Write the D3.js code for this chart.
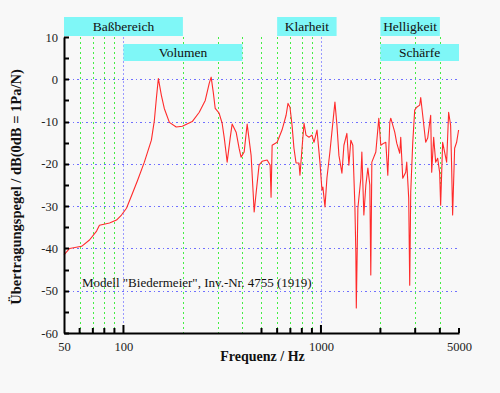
<!DOCTYPE html>
<html>
<head>
<meta charset="utf-8">
<script src="https://cdn.jsdelivr.net/npm/d3@7"></script>
<style>
  html, body { margin: 0; padding: 0; background: #f8f8f8; }
  svg { display: block; }
  svg text { font-family: "Liberation Serif", "Times New Roman", serif; }
</style>
</head>
<body>
<div id="chart"></div>
<script>
// Frequency response (Hz / dB)
let freqs = [50, 53.4, 61.4, 67.3, 73.1, 75.6, 85, 92.2, 97.7, 103.6, 111, 117.7, 127.6, 138.5, 143.4, 146.8, 150.2,
  155.6, 161, 170.8, 185, 198.6, 223, 242, 259.5, 272, 278, 285, 291.5, 305, 316, 324, 331, 335, 347, 355, 372, 385,
  394, 408.5, 423, 443, 453.5, 459, 470, 486, 503.5, 534, 553, 559, 566, 600, 635, 666, 681, 697, 714, 730, 748, 774,
  783, 802, 821, 840, 870, 900, 922, 955, 988, 1012, 1023, 1048, 1072, 1110, 1136, 1177, 1205, 1233, 1277, 1307, 1353,
  1385, 1417, 1450, 1485, 1502, 1510, 1538, 1592, 1611, 1649, 1688, 1728, 1768, 1788, 1810, 1896, 1963, 2009, 2081,
  2130, 2180, 2231, 2257, 2364, 2420, 2506, 2535, 2595, 2687, 2719, 2782, 2815, 2848, 2915, 2983, 3053, 3162, 3200,
  3275, 3391, 3471, 3594, 3637, 3721, 3809, 3899, 3990, 4037, 4132, 4329, 4431, 4535, 4587, 4642, 4752, 4863, 4977];
let levels = [-41.5, -40, -39.5, -38, -35.9, -34.5, -34, -33.3, -32.1, -30.5, -27, -24, -19.6, -14.4, -9.7, -4.5, 0.2,
  -3.8, -6.9, -10.2, -11.3, -11.1, -10, -7.8, -5, -0.9, 0.5, -3.1, -6.9, -8, -10.4, -13.9, -17.5, -19.6, -13.9, -10.6,
  -12.5, -16.3, -18.4, -17.2, -10.6, -18, -26.7, -31.4, -26.7, -20.3, -19.4, -19.1, -20.3, -27.9, -15.6, -14.9, -12,
  -8.5, -5.7, -6.6, -10.9, -16.3, -19.8, -19.8, -22.7, -16.3, -10.4, -13.2, -13.7, -13.2, -14.9, -12, -19.6, -26.2,
  -25.5, -30.2, -23.4, -17.2, -12.5, -5.4, -10.9, -18, -22.2, -15.6, -12.8, -20.3, -14.4, -15.6, -29.8, -40.9, -54.1,
  -30.5, -23.4, -17.2, -32.1, -25, -21, -25, -46.3, -19.6, -17.2, -9.2, -15.6, -15.1, -14.9, -22.7, -10.2, -9.2,
  -12.5, -15.1, -17.5, -13.7, -23.4, -22, -19.6, -28.1, -48.7, -26.7, -15.1, -7.3, -6.6, -6.1, -4.3, -8.5, -14.9,
  -13.9, -8.5, -22, -13.7, -19.6, -18.7, -22, -29.8, -14.9, -19.6, -7.8, -10.9, -20.3, -32.1, -16.3, -14.9, -12];

// Frequency bands shown as cyan labels
let bandNames = ['Baßbereich', 'Volumen', 'Klarheit', 'Helligkeit', 'Schärfe'];
let bandFrom = [50, 100, 600, 2000, 2000];
let bandTo = [200, 400, 1200, 4000, 5000];
let bandRow = [0, 1, 0, 0, 1];

// Axis ticks
let yTicks = [10, 0, -10, -20, -30, -40, -50, -60];
let yMinorTicks = [5, -5, -15, -25, -35, -45, -55];
let xGridGreen = [60, 70, 80, 90, 200, 300, 400, 500, 600, 700, 800, 900, 2000, 3000, 4000];
let xGridBlue = [100, 1000];
let xTickMarks = [60, 70, 80, 90, 500, 600, 700, 800, 900, 2000, 3000, 4000, 5000];
let xTickLabels = [50, 100, 1000, 5000];
let yGrid = [0, -10, -20, -30, -40, -50];

let svgWidth = 500;
let svgHeight = 393;
let margin = { top: 37, right: 41, bottom: 60, left: 64 };
let width = svgWidth - margin.left - margin.right;
let height = svgHeight - margin.top - margin.bottom;

let svg = d3.select('#chart').append('svg')
  .attr('width', svgWidth)
  .attr('height', svgHeight);

svg.append('rect')
  .attr('width', svgWidth)
  .attr('height', svgHeight)
  .attr('fill', '#f8f8f8');

let chartGroup = svg.append('g')
  .attr('transform', `translate(${margin.left}, ${margin.top})`);

let xScale = d3.scaleLog().domain([50, 5000]).range([0, width]);
let yScale = d3.scaleLinear().domain([-60, 10]).range([height, 0]);
let px = v => Math.round(v) + 0.5;

// grid lines
chartGroup.selectAll('.vgreen')
  .data(xGridGreen)
  .enter()
  .append('line')
  .attr('x1', d => px(xScale(d)))
  .attr('x2', d => px(xScale(d)))
  .attr('y1', 0)
  .attr('y2', height)
  .attr('stroke', '#44ee44')
  .attr('stroke-width', 1)
  .attr('stroke-dasharray', '2,3');

chartGroup.selectAll('.vblue')
  .data(xGridBlue)
  .enter()
  .append('line')
  .attr('x1', d => px(xScale(d)))
  .attr('x2', d => px(xScale(d)))
  .attr('y1', 0)
  .attr('y2', height)
  .attr('stroke', '#9a9aff')
  .attr('stroke-dasharray', '2,2');

chartGroup.selectAll('.hblue')
  .data(yGrid)
  .enter()
  .append('line')
  .attr('x1', 0)
  .attr('x2', width - 1)
  .attr('y1', d => px(yScale(d)))
  .attr('y2', d => px(yScale(d)))
  .attr('stroke', '#7070ff')
  .attr('stroke-dasharray', '1,3,2,3');

// band labels
let bandGroup = chartGroup.selectAll('.band')
  .data(bandNames)
  .enter()
  .append('g');

bandGroup.append('rect')
  .attr('x', (d, i) => xScale(bandFrom[i]))
  .attr('y', (d, i) => bandRow[i] === 0 ? -20 : 7)
  .attr('width', (d, i) => xScale(bandTo[i]) - xScale(bandFrom[i]))
  .attr('height', (d, i) => bandRow[i] === 0 ? 19 : 17)
  .attr('fill', '#7ff7f7');

bandGroup.append('text')
  .attr('x', (d, i) => (xScale(bandFrom[i]) + xScale(bandTo[i])) / 2)
  .attr('y', (d, i) => bandRow[i] === 0 ? -6 : 20)
  .attr('text-anchor', 'middle')
  .attr('font-size', '13.5px')
  .attr('fill', '#111')
  .text(d => d);

// response curve
let line = d3.line()
  .x(d => xScale(d[0]))
  .y(d => yScale(d[1]));

chartGroup.append('path')
  .datum(freqs.map((f, i) => [f, levels[i]]))
  .attr('d', line)
  .attr('fill', 'none')
  .attr('stroke', '#ff2a2a')
  .attr('stroke-width', 1.1)
  .attr('stroke-linejoin', 'round');

// axes
let leftAxis = d3.axisLeft(yScale)
  .tickValues(yTicks)
  .tickSize(0)
  .tickPadding(6);

let yAxis = chartGroup.append('g').call(leftAxis);
yAxis.attr('font-family', null);
yAxis.select('.domain').attr('stroke', '#000').attr('stroke-width', 2);
yAxis.selectAll('text')
  .attr('font-size', '12.5px')
  .attr('fill', '#222')
  .text(d => d < 0 ? '-' + Math.abs(d) : d);

chartGroup.selectAll('.ytick')
  .data(yTicks.concat(yMinorTicks))
  .enter()
  .append('line')
  .attr('x1', 0)
  .attr('x2', 5)
  .attr('y1', d => px(yScale(d)))
  .attr('y2', d => px(yScale(d)))
  .attr('stroke', '#000')
  .attr('stroke-width', 2);

let bottomAxis = d3.axisBottom(xScale)
  .tickValues(xTickLabels)
  .tickSize(0)
  .tickPadding(9)
  .tickFormat(d3.format('d'));

let xAxis = chartGroup.append('g')
  .attr('transform', `translate(0, ${height})`)
  .call(bottomAxis);
xAxis.attr('font-family', null);
xAxis.select('.domain').attr('stroke', '#000').attr('stroke-width', 2);
xAxis.selectAll('text')
  .attr('font-size', '12.5px')
  .attr('fill', '#222');

chartGroup.selectAll('.xtick')
  .data(xTickMarks.concat(xGridBlue))
  .enter()
  .append('line')
  .attr('x1', d => xScale(d))
  .attr('x2', d => xScale(d))
  .attr('y1', height)
  .attr('y2', d => xGridBlue.includes(d) ? height - 8 : height - 5)
  .attr('stroke', '#000')
  .attr('stroke-width', 2);

// axis titles
chartGroup.append('text')
  .attr('x', width / 2 + 1)
  .attr('y', height + 28)
  .attr('text-anchor', 'middle')
  .attr('font-size', '14px')
  .attr('font-weight', 'bold')
  .attr('fill', '#111')
  .text('Frequenz / Hz');

chartGroup.append('text')
  .attr('transform', `translate(${-43}, ${height / 2 + 2}) rotate(-90)`)
  .attr('text-anchor', 'middle')
  .attr('font-size', '14.5px')
  .attr('font-weight', 'bold')
  .attr('fill', '#111')
  .text('Übertragungspegel / dB(0dB = 1Pa/N)');

// note
chartGroup.append('text')
  .attr('x', 18)
  .attr('y', yScale(-49.2))
  .attr('font-size', '13px')
  .attr('fill', '#111')
  .text('Modell "Biedermeier", Inv.-Nr. 4755 (1919)');
</script>
</body>
</html>
